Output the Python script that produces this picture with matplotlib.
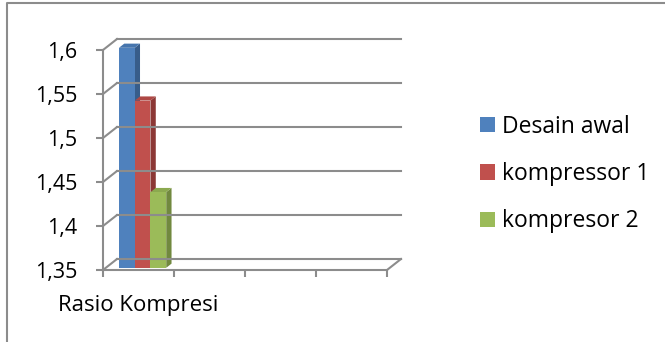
import numpy as np
import matplotlib
matplotlib.use("Agg")
import matplotlib.pyplot as plt
from matplotlib.patches import Polygon
from matplotlib.lines import Line2D
from matplotlib.transforms import IdentityTransform

plt.rcParams['font.family'] = ['Open Sans', 'DejaVu Sans']

# data
categories = ["Rasio Kompresi", "", "", ""]
series = ["Desain awal", "kompressor 1", "kompresor 2"]
values = [1.6, 1.54, 1.436]
yticks = [1.35, 1.4, 1.45, 1.5, 1.55, 1.6]
ytick_labels = ["1,35", "1,4", "1,45", "1,5", "1,55", "1,6"]

front_colors = ['#4F81BD', '#C0504D', '#9BBB59']
side_colors = ['#385D8A', '#8C3836', '#71893F']
top_colors = ['#4675AD', '#AE4845', '#8BA94F']
GRID = '#8C8C8C'

W, H = 665, 342
fig = plt.figure(figsize=(W / 100, H / 100), dpi=100)
ax = fig.add_axes([103 / W, 72 / H, 284 / W, 220 / H])
ax.set_xlim(0, len(categories))
ax.set_ylim(yticks[0], yticks[-1])
ax.patch.set_visible(False)

DEPTH = np.array([14.0, 11.0])  # pixel shift of back wall


def px(x, v, d):
    p = ax.transData.transform((x, v))
    return p + d * DEPTH


def line(p0, p1, **kw):
    fig.add_artist(Line2D([p0[0], p1[0]], [p0[1], p1[1]], transform=IdentityTransform(),
                          color=GRID, lw=1.5, **kw))


def poly(pts, color):
    fig.add_artist(Polygon(pts, closed=True, transform=IdentityTransform(),
                           facecolor=color, edgecolor='none'))


# back wall gridlines + left wall diagonals
nc = len(categories)
for v in yticks:
    line(px(0, v, 1), px(nc, v, 1))
    line(px(0, v, 0), px(0, v, 1))
line(px(nc, yticks[0], 0), px(nc, yticks[0], 1))

# bars
bw = 0.222
x_start = 0.185
d0, d1 = 0.2, 0.58
base = yticks[0]
for i, val in enumerate(values):
    x0 = x_start + i * bw
    x1 = x0 + bw
    poly([px(x1, base, d0), px(x1, val, d0), px(x1, val, d1), px(x1, base, d1)], side_colors[i])
    poly([px(x0, val, d0), px(x1, val, d0), px(x1, val, d1), px(x0, val, d1)], top_colors[i])
    poly([px(x0, base, d0), px(x1, base, d0), px(x1, val, d0), px(x0, val, d0)], front_colors[i])

# front axes
for s in ['top', 'right']:
    ax.spines[s].set_visible(False)
for s in ['left', 'bottom']:
    ax.spines[s].set_color(GRID)
    ax.spines[s].set_linewidth(1.5)
ax.set_yticks(yticks)
ax.set_yticklabels(ytick_labels)
ax.tick_params(axis='y', length=5, width=1.5, color=GRID, pad=13.5, labelsize=15.5)
ax.set_xticks(np.arange(nc + 1))
ax.set_xticklabels([])
ax.tick_params(axis='x', which='major', length=5, width=1.5, color=GRID)
ax.set_xticks(np.arange(nc) + 0.5, minor=True)
ax.set_xticklabels(categories, minor=True)
ax.tick_params(axis='x', which='minor', length=0, pad=18, labelsize=16)

# legend
handles = [Polygon([[0, 0]], facecolor=c) for c in front_colors]
fig.legend(handles, series, loc='center left', bbox_to_anchor=(480 / W, 1 - 174 / H),
           frameon=False, fontsize=16.5, handlelength=0.65, handleheight=0.65,
           handletextpad=0.3, labelspacing=1.02, borderaxespad=0, borderpad=0)

# outer border
fig.add_artist(Line2D([7, 7, W], [0, H - 3, H - 3], transform=IdentityTransform(),
                      color='#8C8C8C', lw=1.5))

fig.savefig('out.png', dpi=100)
